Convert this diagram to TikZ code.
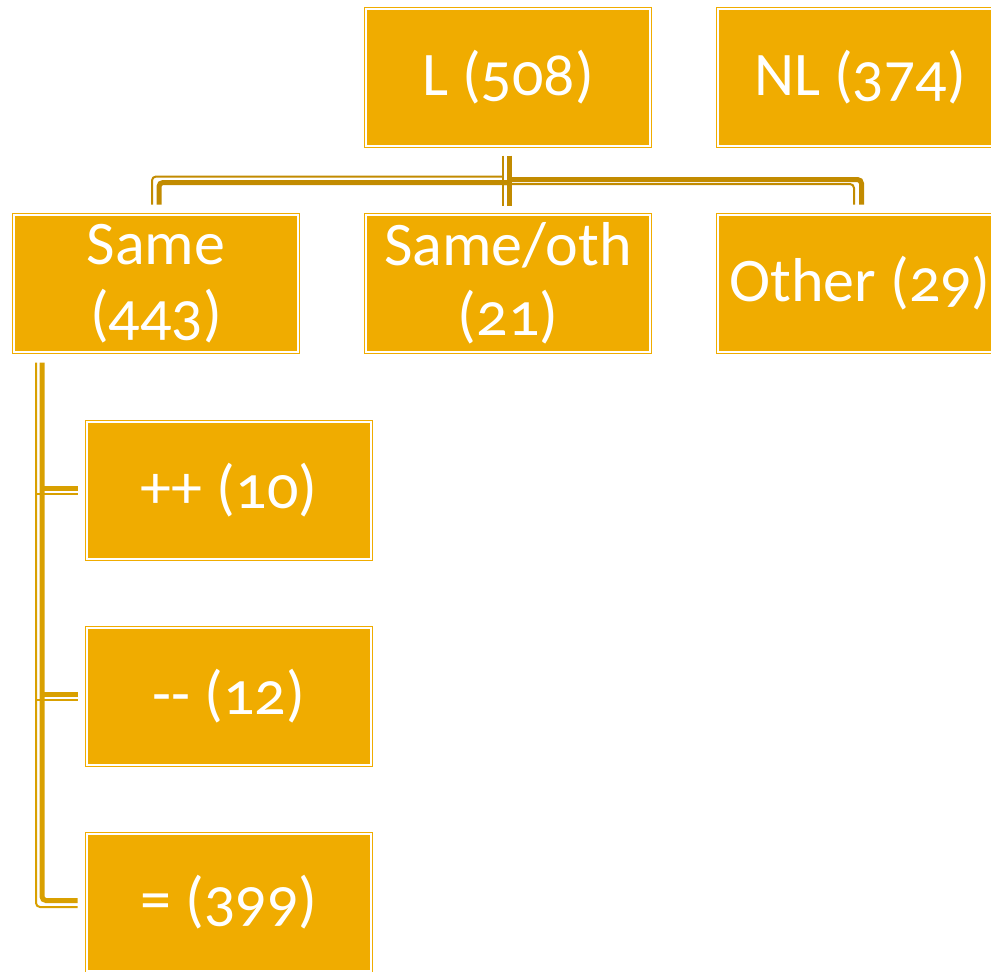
\documentclass[tikz,border=0pt]{standalone}
\usepackage{fontspec}
\setmainfont{Carlito}[Numbers=OldStyle]
\usepackage{tikz}

\definecolor{boxgold}{HTML}{F0AC00}
\definecolor{topline}{HTML}{C28B00}
\definecolor{sideline}{HTML}{D9A000}

\newcommand{\boxfont}{\fontsize{62}{70}\selectfont}

\tikzset{
	box/.style={draw=boxgold, double=white, double distance=2pt, line width=1pt,
		fill=boxgold, minimum width=284pt, minimum height=137pt, inner sep=0pt,
		text=white, align=center, font=\boxfont},
	topthick/.style={draw=topline, line width=5pt, rounded corners=4pt},
	topthin/.style={draw=topline, line width=2pt, rounded corners=4pt},
	sidethick/.style={draw=sideline, line width=5pt, rounded corners=4pt},
	sidethin/.style={draw=sideline, line width=2pt, rounded corners=4pt}
}

\begin{document}
\begin{tikzpicture}[x=1pt, y=-1pt]
			\useasboundingbox (0,0) rectangle (991,972);
			\clip (0,0) rectangle (991,972);
			% top row
			\node[box] (L) at (508,77) {L (508)};
			\node[box] (NL) at (860,77) {NL (374)};
			% second row
			\node[box] (same) at (156,283.5) {Same\\(443)};
			\node[box] (sameoth) at (508,283.5) {Same/oth\\(21)};
			\node[box] (other) at (860,283.5) {Other (29)};
			% under Same
			\node[box] (pp) at (229,490.5) {++ (10)};
			\node[box] (mm) at (229,696.5) {-{}- (12)};
			\node[box] (eq) at (229,902.5) {= (399)};

			% L to its children
			\draw[topthick] 
				([xshift=1.5pt,yshift=-9.5pt]L.south) 
				-- ([xshift=1.5pt,yshift=-60pt]L.south);
			\draw[topthin] 
				([xshift=-5pt,yshift=-9.5pt]L.south) 
				-- ([xshift=-5pt,yshift=-60pt]L.south);
			\draw[topthick] 
				([xshift=1.5pt,yshift=-36.5pt]L.south) 
				-| ([xshift=3pt,yshift=10pt]same.north);
			\draw[topthin] 
				([xshift=-5pt,yshift=-30.5pt]L.south) 
				-| ([xshift=-4pt,yshift=10pt]same.north);
			\draw[topthick] 
				([xshift=1.5pt,yshift=-33.5pt]L.south) 
				-| ([xshift=1.5pt,yshift=10pt]other.north);
			\draw[topthin] 
				([xshift=-5pt,yshift=-38pt]L.south) 
				-| ([xshift=-6pt,yshift=10pt]other.north);

			% Same to its children
			\draw[sidethick] 
				([xshift=-114pt,yshift=-10pt]same.south) 
				|- ([xshift=-9pt,yshift=2pt]eq.west);
			\draw[sidethin] 
				([xshift=-120pt,yshift=-10pt]same.south) 
				|- ([xshift=-9pt,yshift=-4.5pt]eq.west);
			\foreach \n in {pp,mm}{
				\draw[sidethick] ([xshift=-9pt,yshift=2.5pt]\n.west) -- ++(-36pt,0);
				\draw[sidethin] ([xshift=-9pt,yshift=-3.5pt]\n.west) -- ++(-42pt,0);
			}
		\end{tikzpicture}
\end{document}
